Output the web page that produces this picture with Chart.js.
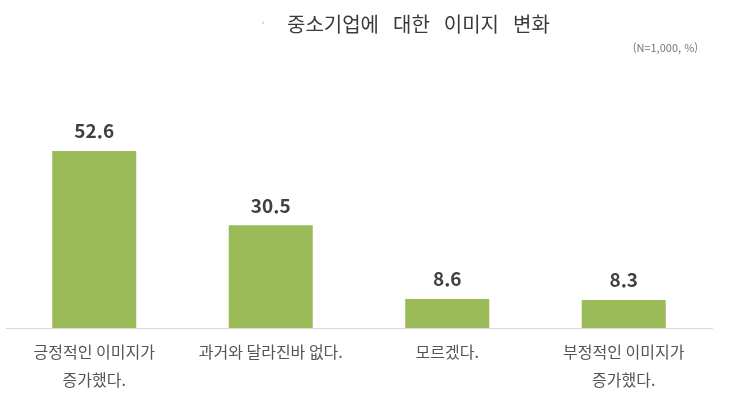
<!DOCTYPE html>
<html lang="ko">
<head>
<meta charset="utf-8">
<script src="https://cdn.jsdelivr.net/npm/chart.js@4.4.0/dist/chart.umd.min.js"></script>
<style>
  html, body { margin: 0; padding: 0; background: #fff; }
  #wrap { position: relative; width: 745px; height: 411px; }
</style>
</head>
<body>
<div id="wrap"><canvas id="chart"></canvas></div>
<script>
// Chart data
const TITLE = '중소기업에 대한 이미지 변화';
const NOTE = '(N=1,000, %)';
const categories = [
    ['긍정적인 이미지가', '증가했다.'],
    ['과거와 달라진바 없다.'],
    ['모르겠다.'],
    ['부정적인 이미지가', '증가했다.']
];
const values = [52.6, 30.5, 8.6, 8.3];

const BAR_COLOR = '#9bbb59';
const TEXT_COLOR = '#404040';
const FONT = "'Noto Sans CJK KR', 'Noto Sans', sans-serif";

// Value labels above bars + title texts
const labelPlugin = {
    id: 'labels',
    afterDatasetsDraw(chart) {
        const ctx = chart.ctx;
        ctx.save();
        ctx.fillStyle = TEXT_COLOR;
        ctx.textAlign = 'center';
        ctx.textBaseline = 'middle';
        ctx.font = 'bold 19px ' + FONT;
        chart.getDatasetMeta(0).data.forEach((bar, i) => {
            ctx.fillText(values[i].toFixed(1), bar.x, bar.y - 20);
        });

        // faint bullet before title
        ctx.font = '16px ' + FONT;
        ctx.fillStyle = '#d0d0d0';
        ctx.textAlign = 'left';
        ctx.fillText('·', 261, 23);

        // title, words spaced out a bit
        ctx.font = '20px ' + FONT;
        ctx.fillStyle = '#3a3a3a';
        let x = 287;
        TITLE.split(' ').forEach(word => {
            ctx.fillText(word, x, 24);
            x += ctx.measureText(word).width + 14;
        });

        // note
        ctx.font = '11px ' + FONT;
        ctx.fillStyle = '#777';
        ctx.textAlign = 'right';
        ctx.fillText(NOTE, 698, 48);
        ctx.restore();
    }
};

new Chart(document.getElementById('chart'), {
    type: 'bar',
    data: {
        labels: categories,
        datasets: [{
            data: values,
            backgroundColor: BAR_COLOR,
            borderWidth: 0,
            categoryPercentage: 1,
            barPercentage: 0.476
        }]
    },
    options: {
        responsive: true,
        maintainAspectRatio: false,
        animation: false,
        layout: { padding: { top: 126, left: 6, right: 33, bottom: 0 } },
        plugins: {
            legend: { display: false },
            title: { display: false },
            tooltip: { enabled: false }
        },
        scales: {
            x: {
                grid: { display: false, drawTicks: false },
                border: { display: true, color: '#d9d9d9', width: 1 },
                ticks: {
                    color: '#555',
                    font: { family: FONT, size: 16, lineHeight: 1.75 },
                    padding: 10,
                    maxRotation: 0,
                    autoSkip: false
                },
                afterFit(scale) { scale.height = 83; }
            },
            y: {
                display: false,
                min: 0,
                max: 60
            }
        }
    },
    plugins: [labelPlugin]
});
</script>
</body>
</html>
